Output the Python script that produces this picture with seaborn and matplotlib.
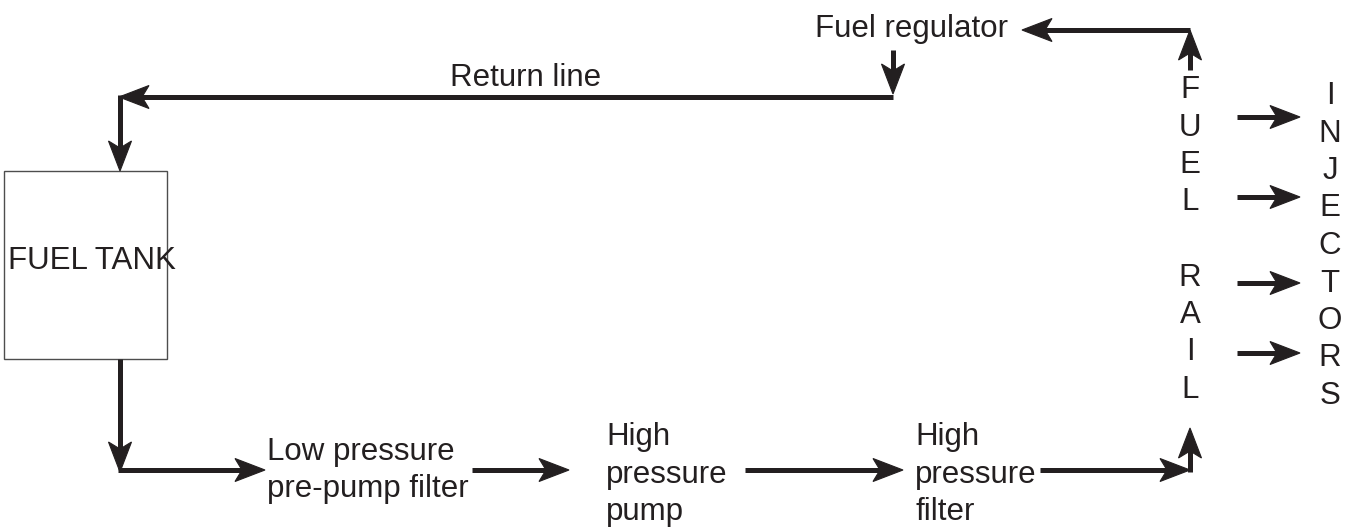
import matplotlib
matplotlib.use("Agg")
import numpy as np
import matplotlib.pyplot as plt
import seaborn as sns
from matplotlib.patches import Rectangle, Polygon

# ---- diagram content ----
tank_label = "FUEL TANK"
regulator_label = "Fuel regulator"
return_label = "Return line"
stage_labels = ["Low pressure\npre-pump filter", "High\npressure\npump", "High\npressure\nfilter"]
rail_letters = list("FUEL") + [""] + list("RAIL")
injector_letters = list("INJECTORS")

# ---- layout (pixel coordinates, y downward) ----
tank_box = (4, 171, 163, 188)          # x, y, w, h
tank_text_xy = (8, 261)
regulator_xy = (815, 29)
return_xy = (450, 78)
stage_x = [267, 606, 915]
stage_top_y = [452, 437, 437]
line_step = 37.5
rail_x, rail_y0 = 1190, 90
inj_x, inj_y0 = 1330, 96

arrows = [
    ((1190, 30), (1022, 30)),
    ((1190, 70), (1190, 30)),
    ((893, 50), (893, 94)),
    ((893, 97), (119, 97)),
    ((120, 95), (120, 171)),
    ((120, 359), (120, 472)),
    ((118, 470), (265, 470)),
    ((472, 470), (569, 470)),
    ((745, 470), (903, 470)),
    ((1040, 470), (1190, 470)),
    ((1190, 472), (1190, 428)),
]
injector_arrow_y = [117, 197, 283, 353]
injector_arrow_x = (1237, 1300)

INK = "#231f20"
FS = 22.5
LW_PX = 5.0
HEAD_LEN, HEAD_HALF, NOTCH = 30.0, 11.5, 7.0

sns.set_theme(style="white")
plt.rcParams["font.family"] = ["Liberation Sans", "DejaVu Sans"]

fig = plt.figure(figsize=(13.57, 5.28), dpi=100)
ax = fig.add_axes([0, 0, 1, 1])
ax.set_xlim(0, 1357)
ax.set_ylim(528, 0)
ax.axis("off")

ax.add_patch(Rectangle(tank_box[:2], tank_box[2], tank_box[3], fill=False,
                       edgecolor="#4d4d4d", lw=1.0))
ax.text(*tank_text_xy, tank_label, fontsize=FS, color=INK, va="center", ha="left")
ax.text(*regulator_xy, regulator_label, fontsize=FS, color=INK, va="center", ha="left")
ax.text(*return_xy, return_label, fontsize=FS, color=INK, va="center", ha="left")

for lab, x, y0 in zip(stage_labels, stage_x, stage_top_y):
    for i, line in enumerate(lab.split("\n")):
        ax.text(x, y0 + i * line_step, line, fontsize=FS, color=INK, va="center", ha="left")

for i, ch in enumerate(rail_letters):
    if ch:
        ax.text(rail_x, rail_y0 + i * line_step, ch, fontsize=FS, color=INK, va="center", ha="center")
for i, ch in enumerate(injector_letters):
    ax.text(inj_x, inj_y0 + i * line_step, ch, fontsize=FS, color=INK, va="center", ha="center")


def arrow(a, b):
    a = np.asarray(a, float)
    b = np.asarray(b, float)
    d = (b - a) / np.linalg.norm(b - a)
    n = np.array([-d[1], d[0]])
    base = b - d * HEAD_LEN
    notch = b - d * (HEAD_LEN - NOTCH)
    ax.plot([a[0], notch[0] + d[0] * 2], [a[1], notch[1] + d[1] * 2], color=INK,
            lw=LW_PX * 0.72, solid_capstyle="butt")
    head = np.array([b, base + n * HEAD_HALF, notch, base - n * HEAD_HALF])
    ax.add_patch(Polygon(head, closed=True, facecolor=INK, edgecolor=INK, lw=0.8))


for a, b in arrows:
    arrow(a, b)
for y in injector_arrow_y:
    arrow((injector_arrow_x[0], y), (injector_arrow_x[1], y))

fig.savefig("out.png", dpi=100, facecolor="white")
